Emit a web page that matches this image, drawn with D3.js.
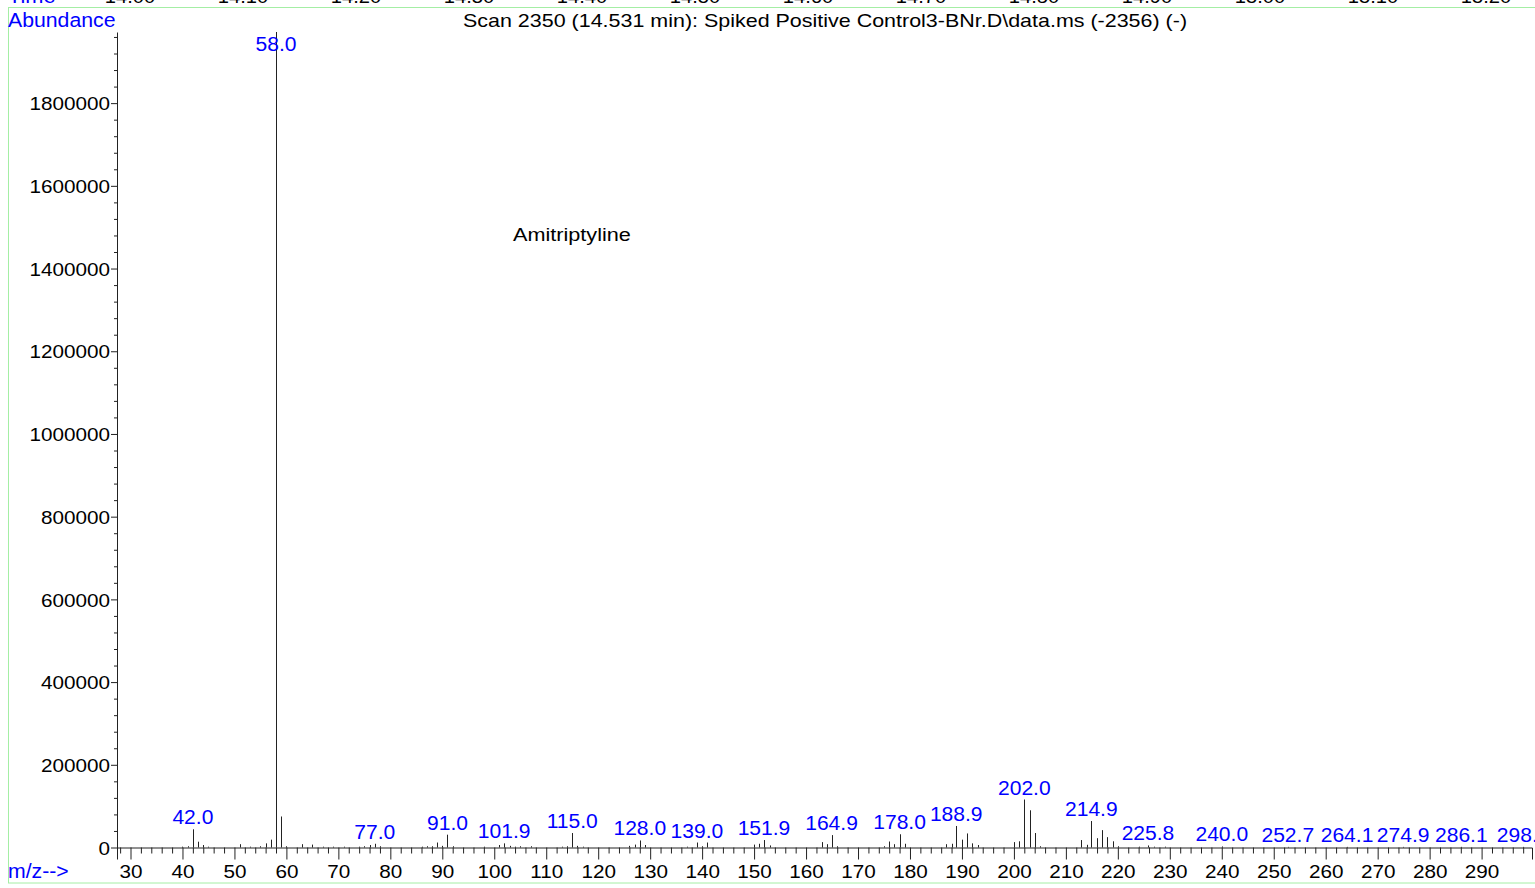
<!DOCTYPE html>
<html>
<head>
<meta charset="utf-8">
<script src="https://cdn.jsdelivr.net/npm/d3@7/dist/d3.min.js"></script>
<style>
  html, body { margin: 0; padding: 0; background: #fff; overflow: hidden; }
  svg { display: block; font-family: "Liberation Sans", Arial, sans-serif; }
</style>
</head>
<body>
<svg id="chart" width="1535" height="888"></svg>
<script>
// Mass spectrum, scan 2350 — m/z and abundance of each ion
const mzValues = [
  40, 41, 42, 43, 44, 45, 51, 53, 55, 56, 57, 58, 59, 60, 63, 65, 67, 69, 71, 74,
  75, 76, 77, 78, 86, 87, 88, 89, 90, 91, 92, 98, 101, 101.9, 103, 104, 105, 107,
  113, 114, 115, 116, 117, 126, 127, 128, 129, 137, 139, 140, 141, 150, 151, 151.9,
  153, 163, 164, 164.9, 166, 175, 176, 177, 178, 179, 187, 188, 188.9, 190, 191,
  192, 193, 200, 201, 202, 203, 204, 205, 213, 214, 214.9, 216, 217, 218, 219, 220,
  224, 225.8, 227, 229, 240.0, 252.7, 264.1, 274.9, 286.1, 298.0
];
const abundanceValues = [
  2000, 3000, 44000, 14000, 6000, 2000, 8000, 2000, 3000, 10000, 19000, 1972000, 75000, 3000, 8000, 7000, 2000, 2000, 2000, 2000,
  3000, 6000, 9000, 3000, 2000, 3000, 3000, 12000, 4000, 31000, 3000, 2000, 6000, 10000, 4000, 2000, 3000, 3000,
  2000, 3000, 35000, 4000, 2000, 4000, 7000, 17000, 6000, 2000, 12000, 3000, 12000, 7000, 9000, 18000,
  5000, 13000, 8000, 30000, 3000, 3000, 14500, 8000, 32000, 9000, 8000, 9000, 52000, 19000, 34000,
  10000, 6000, 13000, 15000, 116000, 90000, 35000, 3000, 18000, 6500, 64000, 22500, 42000, 25000, 15000, 3000,
  2000, 5000, 2000, 2000, 2500, 1500, 1500, 1500, 1500, 1500
];
// Ions whose m/z is printed above the stick
const labelledMz = [42.0, 58.0, 77.0, 91.0, 101.9, 115.0, 128.0, 139.0, 151.9, 164.9,
  178.0, 188.9, 202.0, 214.9, 225.8, 240.0, 252.7, 264.1, 274.9, 286.1, 298.0];

// Axis ticks
const mzMajorTicks = d3.range(30, 300, 10);
const mzMinorTicks = d3.range(28, 300, 2).filter(v => v % 10 !== 0);
const abundanceMajorTicks = d3.range(0, 1800001, 200000);
const abundanceMinorTicks = d3.range(0, 1960001, 40000).filter(v => v % 200000 !== 0);
const timeTicks = ["14.00", "14.10", "14.20", "14.30", "14.40", "14.50", "14.60",
  "14.70", "14.80", "14.90", "15.00", "15.10", "15.20"];

const titleText = "Scan 2350 (14.531 min): Spiked Positive Control3-BNr.D\\data.ms (-2356) (-)";
const compoundName = "Amitriptyline";

const ink = "#222";
const blue = "#0000ff";
const frameGreen = "#a4eea4";

const svg = d3.select("#chart");

const x = d3.scaleLinear().domain([27.4, 299.7]).range([117, 1532]);
const y = d3.scaleLinear().domain([0, 1972000]).range([847.5, 32]);
const timeScale = d3.scaleLinear().domain([14.0, 15.2]).range([130, 1486]);

// Stretch text horizontally around its anchor point
function stretch(sel, sx) {
  sel.each(function () {
    const t = d3.select(this);
    const tx = +t.attr("x") || 0;
    const ty = +t.attr("y") || 0;
    t.attr("x", 0).attr("y", 0)
     .attr("transform", `translate(${tx},${ty}) scale(${sx},1)`);
  });
}

// Frame
svg.append("rect")
  .attr("x", 8.5).attr("y", 7.5)
  .attr("width", 1540).attr("height", 875.5)
  .attr("fill", "none")
  .attr("stroke", frameGreen)
  .attr("stroke-width", 1);

// Time axis strip along the top edge (only its lower part is on screen)
const timeLabels = svg.append("g");
timeLabels.append("text")
  .attr("x", 8).attr("y", 2.5)
  .attr("fill", blue).attr("font-size", 19.5)
  .text("Time");
timeLabels.selectAll("text.t")
  .data(timeTicks)
  .join("text")
  .attr("class", "t")
  .attr("x", d => timeScale(+d)).attr("y", 2.5)
  .attr("text-anchor", "middle")
  .attr("fill", "#000").attr("font-size", 18)
  .text(d => d);
stretch(timeLabels.selectAll("text"), 1.12);

// Y axis
const yMinor = svg.append("g")
  .attr("transform", "translate(117,0)")
  .call(d3.axisLeft(y).tickValues(abundanceMinorTicks).tickSize(3).tickFormat(""));
yMinor.select(".domain").remove();

const yAxis = svg.append("g")
  .attr("transform", "translate(117,0)")
  .call(d3.axisLeft(y).tickValues(abundanceMajorTicks).tickSize(6).tickSizeOuter(0)
    .tickPadding(1).tickFormat(d3.format("d")));
yAxis.selectAll("text")
  .attr("font-size", 18).attr("fill", "#000")
  .attr("font-family", "Liberation Sans, Arial, sans-serif")
  .attr("dy", "0.37em");
stretch(yAxis.selectAll("text"), 1.15);

// X axis
const xMinor = svg.append("g")
  .attr("transform", "translate(0,847.5)")
  .call(d3.axisBottom(x).tickValues(mzMinorTicks).tickSize(6).tickFormat(""));
xMinor.select(".domain").remove();

const xAxis = svg.append("g")
  .attr("transform", "translate(0,847.5)")
  .call(d3.axisBottom(x).tickValues(mzMajorTicks).tickSize(12).tickSizeOuter(12)
    .tickPadding(6).tickFormat(d3.format("d")));
xAxis.selectAll("text")
  .attr("font-size", 18).attr("fill", "#000")
  .attr("font-family", "Liberation Sans, Arial, sans-serif");
stretch(xAxis.selectAll("text"), 1.15);

svg.selectAll(".tick line, .domain").attr("stroke", ink);

// Spectrum sticks
const peaks = mzValues.map((mz, i) => ({ mz, abundance: abundanceValues[i] }));
svg.append("g")
  .selectAll("line")
  .data(peaks)
  .join("line")
  .attr("x1", d => Math.round(x(d.mz)) + 0.5)
  .attr("x2", d => Math.round(x(d.mz)) + 0.5)
  .attr("y1", y(0))
  .attr("y2", d => y(d.abundance))
  .attr("stroke", ink)
  .attr("stroke-width", 1);

// m/z labels above selected sticks
const labelData = labelledMz.map(mz => peaks.find(p => p.mz === mz));
const peakLabels = svg.append("g")
  .selectAll("text")
  .data(labelData)
  .join("text")
  .attr("x", d => x(d.mz))
  .attr("y", d => Math.max(y(d.abundance) - 5, 51))
  .attr("text-anchor", "middle")
  .attr("fill", blue)
  .attr("font-size", 19.5)
  .text(d => d.mz.toFixed(1));
stretch(peakLabels, 1.08);

// Axis captions, title and compound name
const captions = svg.append("g");
captions.append("text")
  .attr("x", 8).attr("y", 26.5)
  .attr("fill", blue).attr("font-size", 19.5)
  .text("Abundance");
captions.append("text")
  .attr("x", 8).attr("y", 878)
  .attr("fill", blue).attr("font-size", 19.5)
  .text("m/z-->");
stretch(captions.selectAll("text"), 1.09);

const title = svg.append("text")
  .attr("x", 825).attr("y", 26.5)
  .attr("text-anchor", "middle")
  .attr("fill", "#000").attr("font-size", 19)
  .text(titleText);
stretch(title, 1.13);

const compound = svg.append("text")
  .attr("x", 513).attr("y", 240.5)
  .attr("fill", "#000").attr("font-size", 19)
  .text(compoundName);
stretch(compound, 1.14);
</script>
</body>
</html>
